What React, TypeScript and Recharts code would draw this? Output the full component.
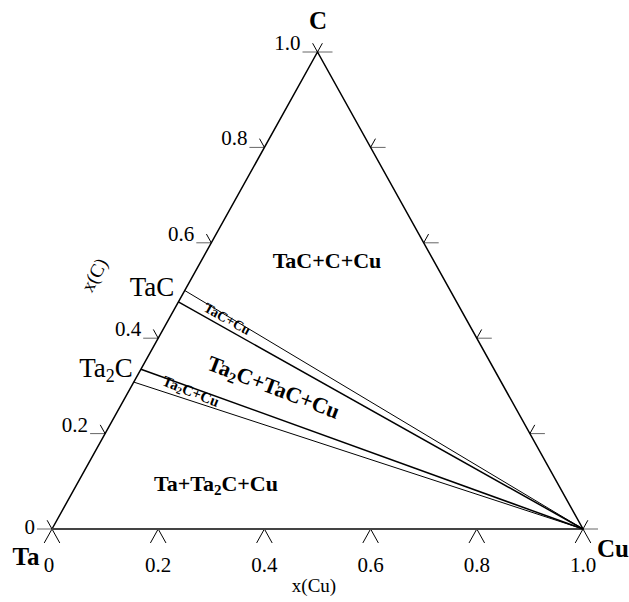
import React from 'react';
import { LineChart, Line, XAxis, YAxis, ReferenceLine } from 'recharts';

// ternary data: x(Cu) along the base, x(C) up to the apex
const cuTicks = [0, 0.2, 0.4, 0.6, 0.8, 1.0];
const cuTickLabels = ['0', '0.2', '0.4', '0.6', '0.8', '1.0'];
const cTicks = [0, 0.2, 0.4, 0.6, 0.8, 1.0];
const cTickLabels = ['0', '0.2', '0.4', '0.6', '0.8', '1.0'];
// x(C) on the Ta-C edge where each tie line leaves, all going to pure Cu
const tieStarts = [0.5, 0.476, 0.335, 0.308];
const tieWidths = [1, 1.5, 1.5, 1];

const W = 629;
const H = 602;
const M = { top: 52, right: 46, bottom: 73, left: 52 };
const PW = W - M.left - M.right;
const PH = H - M.top - M.bottom;

const tern = (xCu: number, xC: number) => ({ x: xCu + xC / 2, y: xC });
// pixel offset -> data offset
const off = (p: { x: number; y: number }, dx: number, dy: number) => ({ x: p.x + dx / PW, y: p.y - dy / PH });
const px = (p: { x: number; y: number }) => [M.left + p.x * PW, M.top + (1 - p.y) * PH];

const triangle = [tern(0, 0), tern(1, 0), tern(0, 1), tern(0, 0)];
const tieLines = tieStarts.map((c) => [tern(0, c), tern(1, 0)]);

// unit directions in pixels
const L = Math.hypot(PW / 2, PH);
const upRight = [PW / 2 / L, -PH / L];
const upLeft = [-PW / 2 / L, -PH / L];

const font = '"Liberation Serif", "Times New Roman", serif';

export default function App() {
  const ticks: any[] = [];
  cuTicks.forEach((t, i) => {
    const p = tern(t, 0);
    ticks.push({ k: `b${i}a`, s: [p, off(p, -upRight[0] * 16, -upRight[1] * 16)], c: '#000' });
    ticks.push({ k: `b${i}b`, s: [p, off(p, -upLeft[0] * 16, -upLeft[1] * 16)], c: '#000' });
  });
  cTicks.forEach((c, i) => {
    const pl = tern(0, c);
    ticks.push({ k: `l${i}a`, s: [pl, off(pl, -15, 0)], c: '#666' });
    ticks.push({ k: `l${i}b`, s: [pl, off(pl, upLeft[0] * 10, upLeft[1] * 10)], c: '#000' });
    const pr = tern(1 - c, c);
    ticks.push({ k: `r${i}a`, s: [pr, off(pr, 15, 0)], c: '#666' });
    ticks.push({ k: `r${i}b`, s: [pr, off(pr, upRight[0] * 10, upRight[1] * 10)], c: '#000' });
  });

  return (
    <div style={{ position: 'absolute', left: 0, top: 0, background: '#fff' }}>
      <LineChart width={W} height={H} margin={M}>
        <XAxis type="number" dataKey="x" domain={[0, 1]} hide />
        <YAxis type="number" dataKey="y" domain={[0, 1]} hide />
        {ticks.map((t) => (
          <ReferenceLine key={t.k} segment={t.s} stroke={t.c} strokeWidth={1} ifOverflow="visible" />
        ))}
        <Line data={triangle} dataKey="y" stroke="#000" strokeWidth={1.5} dot={false} isAnimationActive={false} />
        <ReferenceLine segment={[tern(0, 0), tern(1, 0)]} stroke="#444" strokeWidth={2} ifOverflow="visible" />
        {tieLines.map((d, i) => (
          <Line key={i} data={d} dataKey="y" stroke="#000" strokeWidth={tieWidths[i]} dot={false} isAnimationActive={false} />
        ))}
        <g fontFamily={font} fill="#000">
          {cuTicks.map((t, i) => {
            const [x, y] = px(tern(t, 0));
            return (
              <text key={`cl${i}`} x={i === 0 ? x - 3 : x} y={y + 43} fontSize={21} textAnchor="middle">
                {cuTickLabels[i]}
              </text>
            );
          })}
          {cTicks.map((c, i) => {
            const [x, y] = px(tern(0, c));
            return (
              <text key={`tl${i}`} x={x - 17} y={i === 0 ? y + 5 : y - 2} fontSize={21} textAnchor="end">
                {cTickLabels[i]}
              </text>
            );
          })}
          <text x={314} y={592} fontSize={19} textAnchor="middle">x(Cu)</text>
          <text x={100} y={278} fontSize={19} textAnchor="middle" transform="rotate(-62 100 278)">x(C)</text>
          <text x={318} y={29} fontSize={25} fontWeight="bold" textAnchor="middle">C</text>
          <text x={26} y={565} fontSize={25} fontWeight="bold" textAnchor="middle">Ta</text>
          <text x={613} y={557} fontSize={25} fontWeight="bold" textAnchor="middle">Cu</text>
          <text x={152} y={296} fontSize={27} textAnchor="middle">TaC</text>
          <text x={106} y={377} fontSize={27} textAnchor="middle">
            Ta<tspan fontSize={18} dy={5}>2</tspan><tspan dy={-5}>C</tspan>
          </text>
          <text x={327} y={268} fontSize={22} fontWeight="bold" textAnchor="middle">TaC+C+Cu</text>
          <text x={216} y={491} fontSize={22} fontWeight="bold" textAnchor="middle">
            Ta+Ta<tspan fontSize={15} dy={4}>2</tspan><tspan dy={-4}>C+Cu</tspan>
          </text>
          <text x={225} y={323} fontSize={14} fontWeight="bold" textAnchor="middle" transform="rotate(29 225 323)">TaC+Cu</text>
          <text x={189} y={396} fontSize={15} fontWeight="bold" textAnchor="middle" transform="rotate(22 189 396)">
            Ta<tspan fontSize={10} dy={2}>2</tspan><tspan dy={-2}>C+Cu</tspan>
          </text>
          <text x={271} y={394} fontSize={22} fontWeight="bold" textAnchor="middle" transform="rotate(21 271 394)">
            Ta<tspan fontSize={15} dy={4}>2</tspan><tspan dy={-4}>C+TaC+Cu</tspan>
          </text>
        </g>
      </LineChart>
    </div>
  );
}
